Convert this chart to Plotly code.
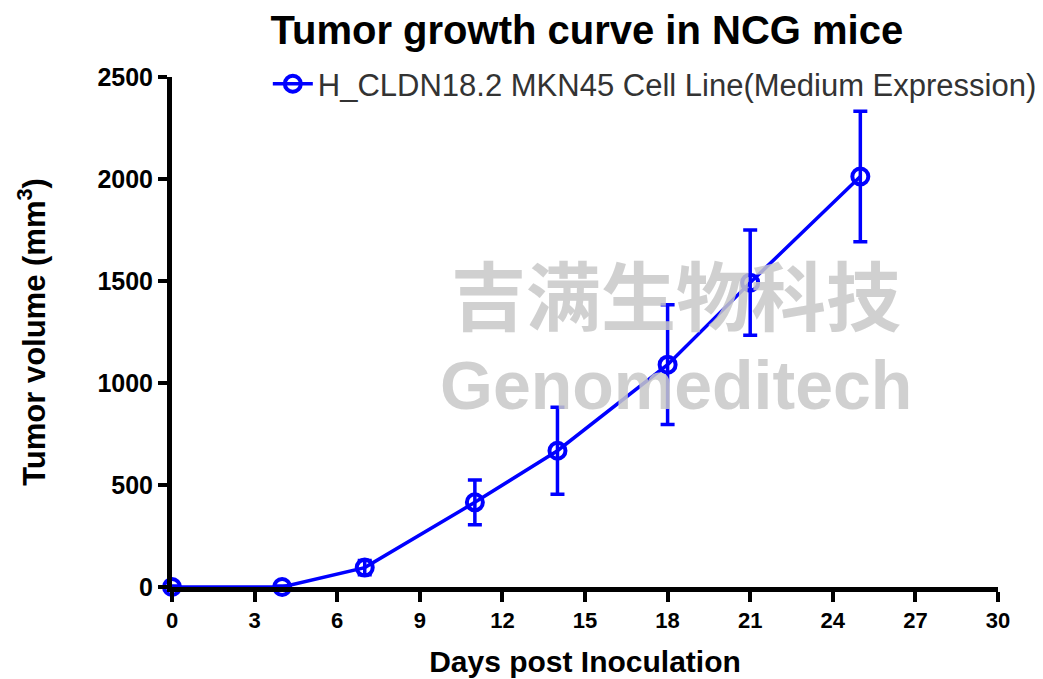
import plotly.graph_objects as go

days = [0, 4, 7, 11, 14, 18, 21, 25]
volume = [0, 0, 95, 415, 668, 1090, 1492, 2012]
sem = [5, 5, 35, 110, 213, 293, 258, 320]
series_name = "H_CLDN18.2 MKN45 Cell Line(Medium Expression)"
x_ticks = [0, 3, 6, 9, 12, 15, 18, 21, 24, 27, 30]
y_ticks = [0, 500, 1000, 1500, 2000, 2500]

blue = "#0000FF"
sans = "Arial, Liberation Sans, sans-serif"
fig = go.Figure()
fig.add_trace(go.Scatter(
    x=days, y=volume, mode="lines+markers", name=series_name,
    line=dict(color=blue, width=3.5),
    marker=dict(symbol="circle-open", size=16, color=blue, line=dict(width=4, color=blue)),
    error_y=dict(type="data", array=sem, visible=True, color=blue, thickness=3.5, width=7),
    cliponaxis=False,
))

# watermark
fig.add_annotation(text="<b>吉满生物科技</b>", x=0.61, y=0.578, xref="paper", yref="paper",
                   xanchor="center", yanchor="middle", showarrow=False,
                   font=dict(size=75, color="rgba(200,200,200,0.85)", family="Noto Sans CJK SC"))
fig.add_annotation(text="<b>Genomeditech</b>", x=0.61, y=0.396, xref="paper", yref="paper",
                   xanchor="center", yanchor="middle", showarrow=False,
                   font=dict(size=68, color="rgba(200,200,200,0.85)", family=sans))

fig.update_layout(
    width=1043, height=679,
    paper_bgcolor="white", plot_bgcolor="white",
    margin=dict(l=164, r=53, t=69, b=100, autoexpand=False),
    title=dict(text="<b>Tumor growth curve in NCG mice</b>", x=0.555, xanchor="center",
               y=0.968, yanchor="middle", yref="container",
               font=dict(size=40, color="black", family=sans)),
    showlegend=True,
    legend=dict(x=0.116, y=0.888, xref="paper", yref="container", xanchor="left", yanchor="middle",
                bgcolor="rgba(0,0,0,0)",
                font=dict(size=31, color="#333333", family=sans),
                itemwidth=40),
    xaxis=dict(range=[0, 30], tickvals=x_ticks, showgrid=False, zeroline=False,
               showline=True, linecolor="black", linewidth=5, automargin=False,
               ticks="outside", ticklen=10, tickwidth=3.5, tickcolor="black",
               tickfont=dict(size=22, color="black", family=sans, weight="bold"),
               title=dict(text="<b>Days post Inoculation</b>", standoff=20,
                          font=dict(size=30, color="black", family=sans))),
    yaxis=dict(range=[0, 2500], tickvals=y_ticks, showgrid=False, zeroline=False,
               showline=True, linecolor="black", linewidth=5, automargin=False,
               ticks="outside", ticklen=9, tickwidth=3.5, tickcolor="black",
               tickfont=dict(size=25, color="black", family=sans, weight="bold"),
               title=dict(text="<b>Tumor volume (mm<sup>3</sup>)</b>", standoff=44,
                          font=dict(size=31, color="black", family=sans))),
)
fig.write_html("out.html")
